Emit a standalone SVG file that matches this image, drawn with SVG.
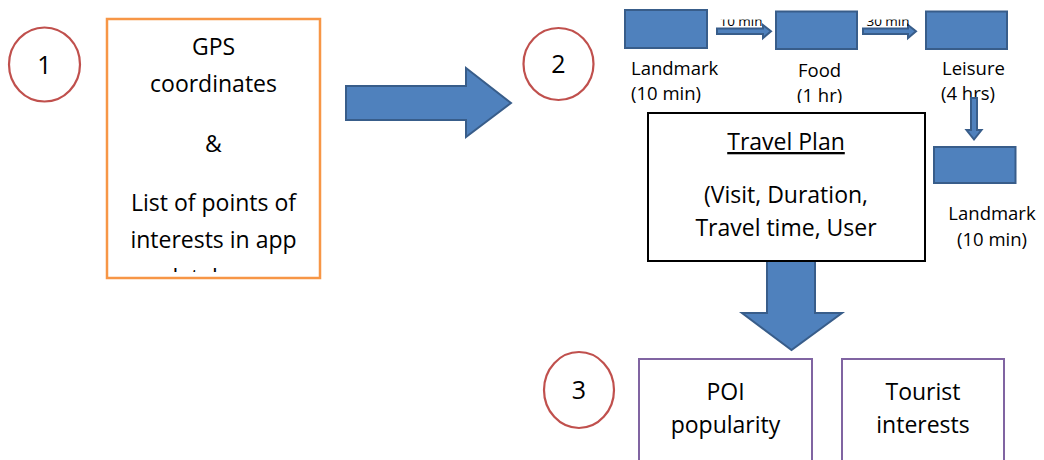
<svg xmlns="http://www.w3.org/2000/svg" width="1044" height="460" viewBox="0 0 1044 460">
  <style>
    .t { font-family: "Open Sans", "Liberation Sans", sans-serif; fill: #000; text-anchor: middle; }
    .s { text-anchor: start; }
    .big { font-size: 23px; }
    .lbl { font-size: 18.5px; }
    .tiny { font-size: 13.5px; }
    .num { font-size: 25px; }
    .step { fill: #fff; stroke: #c0504d; stroke-width: 2.2; }
    .blk { fill: #4f81bd; stroke: #385d8a; stroke-width: 2; }
    .arr { fill: #4f81bd; stroke: #385d8a; stroke-width: 2; stroke-linejoin: miter; }
  </style>
  <defs>
    <!-- text areas are inset from their frames, so overflowing lines are cut -->
    <clipPath id="clipInput"><rect x="107" y="19" width="213" height="253"/></clipPath>
    <clipPath id="clipPlan"><rect x="648" y="113" width="277" height="140"/></clipPath>
    <clipPath id="clipTiny"><rect x="700" y="19.5" width="240" height="20"/></clipPath>
    <clipPath id="clipLbl"><rect x="780" y="50" width="260" height="53"/></clipPath>
  </defs>

  <rect width="1044" height="460" fill="#fff"/>

  <!-- connectors -->
  <g id="connectors">
    <polygon class="arr" points="346,86 466,86 466,68 511,103 466,137 466,120 346,120"/>
    <polygon class="arr" points="767,250 815,250 815,313 842,313 791.5,350 742,313 767,313"/>
    <polygon class="arr" stroke-width="1.5" points="717,28.5 763,28.5 763,25 771,31.3 763,38 763,34 717,34"/>
    <polygon class="arr" stroke-width="1.5" points="863,28.5 908,28.5 908,25 916,31.3 908,38 908,34 863,34"/>
    <g clip-path="url(#clipTiny)">
      <text class="t tiny" x="741" y="26">10 min</text>
      <text class="t tiny" x="888" y="26">30 min</text>
    </g>
  </g>

  <!-- step markers -->
  <g id="step1">
    <ellipse class="step" cx="44.5" cy="64.5" rx="35.5" ry="37"/>
    <text class="t num" x="44.5" y="73.5">1</text>
  </g>
  <g id="step2">
    <ellipse class="step" cx="558.5" cy="64" rx="35" ry="36"/>
    <text class="t num" x="558.5" y="73">2</text>
  </g>
  <g id="step3">
    <ellipse class="step" cx="579" cy="390" rx="35" ry="38"/>
    <text class="t num" x="579" y="399">3</text>
  </g>

  <!-- input box -->
  <g id="input">
    <rect x="107" y="19" width="213" height="259" fill="#fff" stroke="#f79646" stroke-width="2.5"/>
    <g clip-path="url(#clipInput)">
      <text class="t big" x="213.5" y="55">GPS</text>
      <text class="t big" x="213.5" y="92">coordinates</text>
      <text class="t big" x="213.5" y="152">&amp;</text>
      <text class="t big" x="213.5" y="211">List of points of</text>
      <text class="t big" x="213.5" y="248">interests in app</text>
      <text class="t big" x="213.5" y="285.5">database</text>
    </g>
  </g>

  <!-- itinerary stops -->
  <g id="stop-landmark">
    <rect class="blk" x="625" y="10" width="82" height="38"/>
    <text class="t s lbl" x="631" y="75">Landmark</text>
    <text class="t s lbl" x="631" y="100">(10 min)</text>
  </g>
  <g id="stop-food">
    <rect class="blk" x="776" y="11.5" width="81" height="37.5"/>
    <g clip-path="url(#clipLbl)">
      <text class="t s lbl" x="798" y="77">Food</text>
      <text class="t s lbl" x="797" y="102">(1 hr)</text>
    </g>
  </g>
  <g id="stop-leisure">
    <rect class="blk" x="926" y="11.5" width="81" height="37.5"/>
    <g clip-path="url(#clipLbl)">
      <text class="t s lbl" x="942" y="75">Leisure</text>
      <text class="t s lbl" x="941" y="100">(4 hrs)</text>
    </g>
  </g>
  <polygon class="arr" stroke-width="1.5" points="971,98 977,98 977,130 981.5,130 974,139.5 966.5,130 971,130"/>
  <g id="stop-landmark2">
    <rect class="blk" x="934" y="147" width="81.5" height="36"/>
    <text class="t lbl" x="992" y="220" font-size="19.5">Landmark</text>
    <text class="t lbl" x="992" y="246" font-size="19.5">(10 min)</text>
  </g>

  <!-- travel plan -->
  <g id="travel-plan">
    <rect x="648" y="113" width="277" height="148" fill="#fff" stroke="#000" stroke-width="2"/>
    <g clip-path="url(#clipPlan)">
      <text class="t big" x="786" y="150" text-decoration="underline">Travel Plan</text>
      <text class="t big" x="786" y="203">(Visit, Duration,</text>
      <text class="t big" x="786" y="236">Travel time, User</text>
    </g>
  </g>

  <!-- factors -->
  <g id="poi-popularity">
    <rect x="639" y="359" width="173" height="120" fill="#fff" stroke="#8064a2" stroke-width="2"/>
    <text class="t big" x="725.5" y="400">POI</text>
    <text class="t big" x="725.5" y="433">popularity</text>
  </g>
  <g id="tourist-interests">
    <rect x="842" y="359" width="162" height="120" fill="#fff" stroke="#8064a2" stroke-width="2"/>
    <text class="t big" x="923" y="400">Tourist</text>
    <text class="t big" x="923" y="433">interests</text>
  </g>
</svg>
